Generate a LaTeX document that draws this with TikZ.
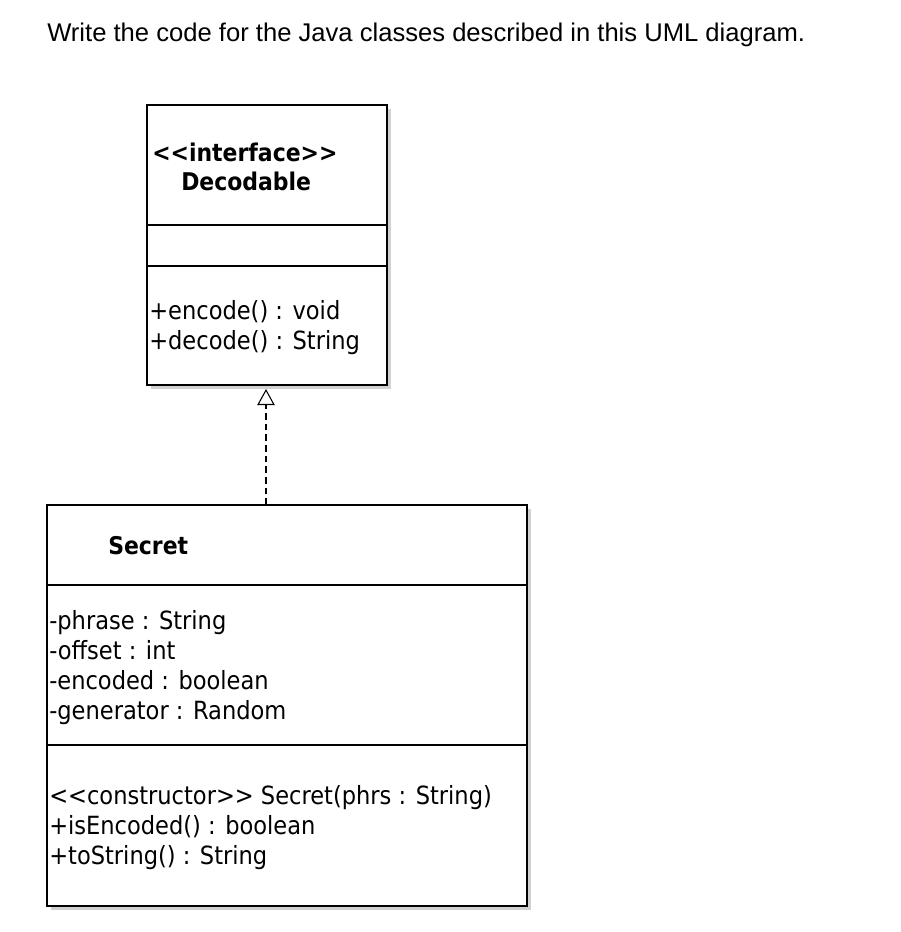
\documentclass[tikz,border=0pt]{standalone}
\usepackage{fontspec}
\setmainfont{Liberation Sans}
\newfontfamily\umlfont{DejaVu Sans Condensed}
\usetikzlibrary{arrows.meta}
\begin{document}
\begin{tikzpicture}[x=0.75pt,y=-0.75pt,
  box/.style={draw=black,line width=0.9pt,fill=white},
  shad/.style={fill=black!18},
  txt/.style={anchor=base west,inner sep=0pt,yshift=-7pt,font=\umlfont\fontsize{18.8}{20}\selectfont},
  btxt/.style={txt,font=\umlfont\bfseries\fontsize{18.3}{20}\selectfont}]
\useasboundingbox (0,0) rectangle (900,932);
\node[anchor=west,inner sep=0pt,font=\fontsize{19.2}{22}\selectfont] (title) at (47,35) {Write the code for the Java classes described in this UML diagram.};
% interface
\fill[shad] (151,109) rectangle (391,389);
\draw[box] (147,105) rectangle (387,385);
\draw[line width=0.9pt] (147,225) -- (387,225) (147,266) -- (387,266);
\node[btxt] (st) at (152,152) {<<interface>>};
\node[btxt] (dec) at (181,181) {Decodable};
\node[txt] (m1) at (149,310) {+encode() : void};
\node[txt] (m2) at (149,340) {+decode() : String};
\coordinate (itop) at (266,389);
% Secret
\fill[shad] (51,509) rectangle (531,910);
\draw[box] (47,505) rectangle (527,906);
\draw[line width=0.9pt] (47,585) -- (527,585) (47,745) -- (527,745);
\node[btxt] (sec) at (108,545) {Secret};
\node[txt] (a1) at (49,620) {-phrase : String};
\node[txt] (a2) at (49,650) {-offset : int};
\node[txt] (a3) at (49,680) {-encoded : boolean};
\node[txt] (a4) at (49,710) {-generator : Random};
\node[txt] (c1) at (49,795) {<<constructor>> Secret(phrs : String)};
\node[txt] (c2) at (49,825) {+isEncoded() : boolean};
\node[txt] (c3) at (49,855) {+toString() : String};
\coordinate (stop) at (266,505);
\draw[dashed,dash pattern=on 5pt off 3pt,line width=0.8pt,-{Triangle[open,length=12pt,width=13pt]}] (stop) -- (itop);
\end{tikzpicture}
\end{document}
